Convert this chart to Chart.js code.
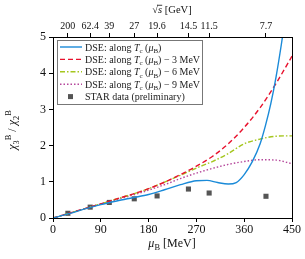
<!DOCTYPE html>
<html>
<head>
<meta charset="utf-8">
<script src="https://cdn.jsdelivr.net/npm/chart.js@4.4.1/dist/chart.umd.min.js"></script>
<style>
  body { margin: 0; background: #fff; }
</style>
</head>
<body>
<canvas id="chi" width="305" height="259"></canvas>
<script>
// curves (muB in MeV)
const muBlue = [0, 30, 60, 90, 120, 150, 180, 210, 240, 270, 290, 310, 330, 345, 360, 375, 390, 400, 410, 420, 430, 440]
const dseTc = [0, 0.12, 0.25, 0.37, 0.47, 0.56, 0.65, 0.78, 0.92, 1.03, 1.04, 0.98, 0.94, 0.98, 1.2, 1.55, 2.05, 2.55, 3.15, 3.9, 4.8, 5.8]

const muGrid = [0, 30, 60, 90, 120, 150, 180, 210, 240, 270, 300, 330, 360, 390, 420, 450]
const dseTc3 = [0, 0.13, 0.26, 0.39, 0.53, 0.66, 0.81, 0.99, 1.2, 1.43, 1.7, 2.05, 2.5, 3.05, 3.72, 4.47]
const dseTc6 = [0, 0.13, 0.26, 0.39, 0.53, 0.66, 0.81, 0.99, 1.18, 1.38, 1.56, 1.78, 2.05, 2.18, 2.26, 2.27]
const dseTc9 = [0, 0.13, 0.26, 0.38, 0.51, 0.63, 0.77, 0.92, 1.09, 1.24, 1.37, 1.48, 1.56, 1.61, 1.6, 1.5]

// STAR points
const starMu = [28, 70, 106, 153, 196, 255, 294, 401]
const starVal = [0.13, 0.30, 0.43, 0.53, 0.61, 0.80, 0.69, 0.60]

// top axis: sqrt(s) labels sit at the STAR muB values
const sqrtLabels = ['200', '62.4', '39', '27', '19.6', '14.5', '11.5', '7.7']

const SERIF = '"Liberation Serif", "DejaVu Serif", serif'

function pts(xs, ys) {
    return xs.map((m, i) => ({ x: m, y: ys[i] }))
}

// draw text made of pieces: {t, it (italic), sh: 0 normal, 1 sub, -1 sup}
function richWidth(ctx, parts, size) {
    let w = 0
    parts.forEach(p => {
        const s = p.sh ? size * 0.7 : size
        ctx.font = (p.it ? 'italic ' : '') + s + 'px ' + SERIF
        w += ctx.measureText(p.t).width
    })
    return w
}
function drawRich(ctx, parts, x, y, size, align) {
    let w = richWidth(ctx, parts, size)
    let cx = align == 'center' ? x - w / 2 : x
    ctx.textBaseline = 'alphabetic'
    ctx.textAlign = 'left'
    parts.forEach(p => {
        const s = p.sh ? size * 0.7 : size
        ctx.font = (p.it ? 'italic ' : '') + s + 'px ' + SERIF
        let dy = p.sh == 1 ? size * 0.22 : (p.sh == -1 ? -size * 0.38 : 0)
        ctx.fillText(p.t, cx, y + dy)
        if (p.over) {//overline for sqrt
            ctx.fillRect(cx - 1, y - size * 0.78, ctx.measureText(p.t).width + 1, 0.8)
        }
        cx += ctx.measureText(p.t).width
    })
}

const tcLabel = [{ t: 'DSE: along ' }, { t: 'T', it: 1 }, { t: 'c', sh: 1 }, { t: ' (' }, { t: 'μ', it: 1 }, { t: 'B', sh: 1 }, { t: ')' }]

const legendItems = [
    { color: '#1a8ad8', dash: [], parts: tcLabel },
    { color: '#e8112d', dash: [5, 3], parts: tcLabel.concat([{ t: ' − 3 MeV' }]) },
    { color: '#a5c61e', dash: [5, 2, 1.5, 2], parts: tcLabel.concat([{ t: ' − 6 MeV' }]) },
    { color: '#b5479b', dash: [1.5, 2], parts: tcLabel.concat([{ t: ' − 9 MeV' }]) },
    { marker: true, parts: [{ t: 'STAR data (preliminary)' }] }
]

const decor = {
    id: 'decor',
    afterDraw(chart) {
        const ctx = chart.ctx
        const a = chart.chartArea
        ctx.save()
        // frame
        ctx.strokeStyle = '#000'
        ctx.lineWidth = 1
        ctx.strokeRect(Math.round(a.left) + 0.5, Math.round(a.top) + 0.5, Math.round(a.right - a.left), Math.round(a.bottom - a.top))

        // legend box
        const lx = 57.5, ly = 40.5, lw = 145, lh = 64
        ctx.fillStyle = '#fff'
        ctx.fillRect(lx, ly, lw, lh)
        ctx.strokeStyle = '#777'
        ctx.strokeRect(lx, ly, lw, lh)
        legendItems.forEach((it, i) => {
            const yy = 47 + i * 12.4
            if (it.marker) {
                ctx.fillStyle = '#555'
                ctx.fillRect(68, yy - 2.5, 5, 5)
            } else {
                ctx.strokeStyle = it.color
                ctx.lineWidth = 1.4
                ctx.setLineDash(it.dash)
                ctx.beginPath()
                ctx.moveTo(60, yy)
                ctx.lineTo(82, yy)
                ctx.stroke()
                ctx.setLineDash([])
            }
            ctx.fillStyle = '#222'
            drawRich(ctx, it.parts, 85, yy + 3.5, 10)
        })

        // axis titles
        ctx.fillStyle = '#111'
        drawRich(ctx, [{ t: 'μ', it: 1 }, { t: 'B', sh: 1 }, { t: ' [MeV]' }], 172, 247, 12, 'center')
        drawRich(ctx, [{ t: '√' }, { t: 's', it: 1, over: 1 }, { t: ' [GeV]' }], 172, 13, 10.5, 'center')

        ctx.translate(16, 130)
        ctx.rotate(-Math.PI / 2)
        drawRich(ctx, [{ t: 'χ', it: 1 }, { t: '3', sh: 1 }, { t: 'B', sh: -1 }, { t: ' / ' }, { t: 'χ', it: 1 }, { t: '2', sh: 1 }, { t: 'B', sh: -1 }], 0, 0, 12, 'center')
        ctx.restore()
    }
}

const tickFont = { family: SERIF, size: 12 }

new Chart(document.getElementById('chi'), {
    type: 'line',
    data: {
        datasets: [
            {
                data: pts(muBlue, dseTc), borderColor: '#1a8ad8', borderWidth: 1.4,
                pointRadius: 0, cubicInterpolationMode: 'monotone'
            },
            {
                data: pts(muGrid, dseTc3), borderColor: '#e8112d', borderWidth: 1.4, borderDash: [5, 3],
                pointRadius: 0, cubicInterpolationMode: 'monotone'
            },
            {
                data: pts(muGrid, dseTc6), borderColor: '#a5c61e', borderWidth: 1.4, borderDash: [5, 2, 1.5, 2],
                pointRadius: 0, cubicInterpolationMode: 'monotone'
            },
            {
                data: pts(muGrid, dseTc9), borderColor: '#b5479b', borderWidth: 1.4, borderDash: [1.5, 2],
                pointRadius: 0, cubicInterpolationMode: 'monotone'
            },
            {
                data: pts(starMu, starVal), showLine: false, pointStyle: 'rect',
                pointRadius: 3.6, backgroundColor: '#555', borderColor: '#555', borderWidth: 0
            }
        ]
    },
    options: {
        responsive: false,
        animation: false,
        events: [],
        devicePixelRatio: 1,
        layout: { padding: { right: 13, left: 0, top: 0, bottom: 0 } },
        plugins: { legend: { display: false }, tooltip: { enabled: false } },
        scales: {
            x: {
                type: 'linear', position: 'bottom', min: 0, max: 450,
                ticks: { stepSize: 90, font: tickFont, color: '#111', maxRotation: 0, padding: 1 },
                grid: { drawOnChartArea: false, tickLength: 4, color: '#000' },
                border: { color: '#000' },
                afterFit: s => { s.height = 41 }
            },
            x2: {
                type: 'linear', position: 'top', min: 0, max: 450,
                afterBuildTicks: s => { s.ticks = starMu.map(v => ({ value: v })) },
                ticks: {
                    font: { family: SERIF, size: 10 }, color: '#111', autoSkip: false, maxRotation: 0, padding: 1,
                    callback: (v, i) => sqrtLabels[i]
                },
                grid: { drawOnChartArea: false, tickLength: 4, color: '#000' },
                border: { color: '#000' },
                afterFit: s => { s.height = 37 }
            },
            y: {
                min: 0, max: 5,
                ticks: { stepSize: 1, font: tickFont, color: '#111', padding: 3 },
                grid: { drawOnChartArea: false, tickLength: 4, color: '#000' },
                border: { color: '#000' },
                afterFit: s => { s.width = 53 }
            }
        }
    },
    plugins: [decor]
})
</script>
</body>
</html>
